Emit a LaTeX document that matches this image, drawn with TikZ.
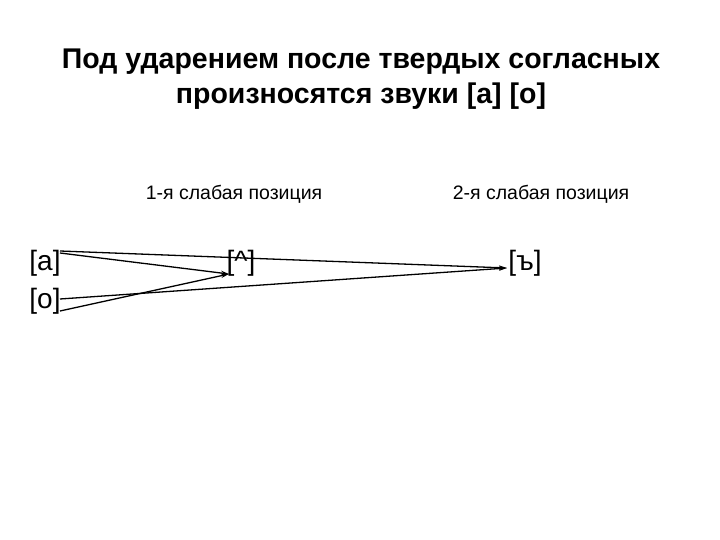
\documentclass[tikz,border=0pt]{standalone}
\usepackage{fontspec}
\setmainfont{Liberation Sans}
\usetikzlibrary{arrows.meta}
\begin{document}
\begin{tikzpicture}[x=1pt,y=-1pt,
  titletext/.style={font=\fontsize{28.5}{35}\selectfont\bfseries, align=center},
  poslabel/.style={font=\fontsize{19.5}{23}\selectfont},
  snd/.style={font=\fontsize{28}{32}\selectfont, inner sep=0pt},
  con/.style={line width=1.3pt, -{Stealth[length=8pt,width=4.5pt]}}]
\useasboundingbox (0,0) rectangle (720,540);
\node[titletext] (t) at (361,79) {Под ударением после твердых согласных\\произносятся звуки [а] [о]};
\node[poslabel] (p1) at (234,194) {1-я слабая позиция};
\node[poslabel] (p2) at (541,194) {2-я слабая позиция};
\node[snd] (a) at (45,263) {[а]};
\node[snd] (o) at (45,301) {[о]};
\node[snd] (v) at (241,263) {[\textasciicircum]};
\node[snd] (b) at (525,263) {[ъ]};
\coordinate (a1) at (60,251);
\coordinate (a2) at (60,253);
\coordinate (o1) at (60,299);
\coordinate (o2) at (60,311);
\coordinate (vt) at (229,274);
\coordinate (bt) at (507,268);
\draw[con] (a1) -- (bt);
\draw[con] (a2) -- (vt);
\draw[con] (o1) -- (bt);
\draw[con] (o2) -- (vt);
\end{tikzpicture}
\end{document}
